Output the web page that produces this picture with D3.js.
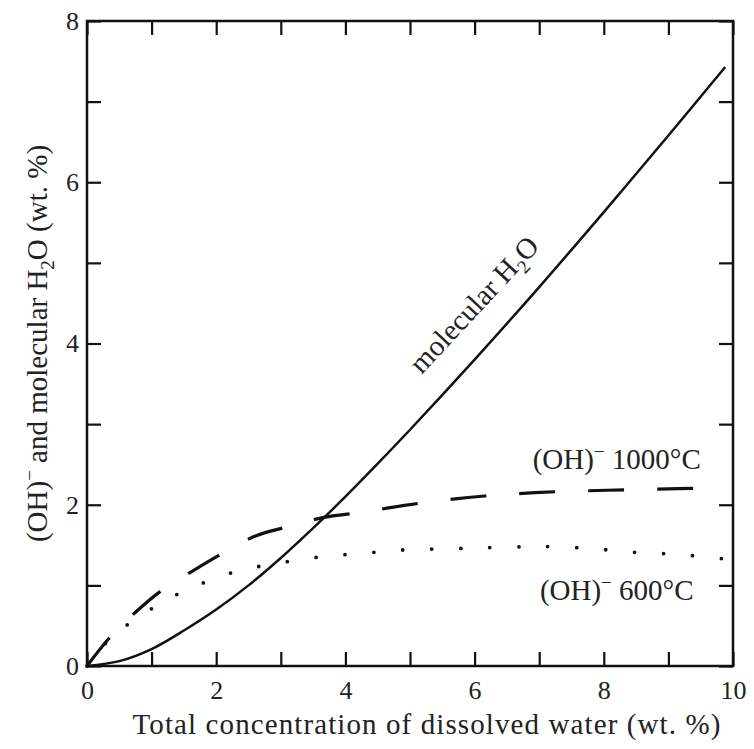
<!DOCTYPE html>
<html>
<head>
<meta charset="utf-8">
<script src="https://cdn.jsdelivr.net/npm/d3@7"></script>
<style>
  body { margin: 0; background: #fff; }
  text { font-family: "Liberation Serif", "Times New Roman", serif; fill: #222; }
</style>
</head>
<body>
<div id="chart"></div>
<script>
// data (wt. %)
const molX = [0, 0.5, 1, 1.5, 2, 2.5, 3, 3.5, 4, 4.5, 5, 6, 7, 8, 9, 9.88];
const molY = [0, 0.06, 0.21, 0.44, 0.70, 1.00, 1.34, 1.71, 2.10, 2.51, 2.93, 3.80, 4.70, 5.63, 6.58, 7.43];

const oh1000X = [0, 0.36, 0.7, 1.16, 1.64, 2.17, 2.63, 3.17, 3.65, 4.29, 4.89, 5.9, 6.93, 8.05, 9.15, 9.85];
const oh1000Y = [0, 0.36, 0.63, 0.94, 1.18, 1.43, 1.62, 1.74, 1.84, 1.91, 1.99, 2.09, 2.15, 2.18, 2.2, 2.21];

const oh600X = [0, 0.43, 0.7, 1.04, 1.4, 1.8, 2.17, 2.57, 3.0, 3.48, 3.98, 4.44, 4.92, 5.88, 6.8, 7.25, 7.74, 8.2, 8.64, 9.07, 9.47, 9.85];
const oh600Y = [0, 0.40, 0.55, 0.73, 0.89, 1.03, 1.14, 1.22, 1.28, 1.34, 1.38, 1.41, 1.44, 1.46, 1.48, 1.48, 1.46, 1.43, 1.40, 1.39, 1.36, 1.33];

const xTicks = [0, 1, 2, 3, 4, 5, 6, 7, 8, 9, 10];
const yTicks = [0, 1, 2, 3, 4, 5, 6, 7, 8];

const W = 754, H = 749;
const margin = { top: 21, right: 21, bottom: 83, left: 87 };
const width = W - margin.left - margin.right;
const height = H - margin.top - margin.bottom;

const svg = d3.select("#chart").append("svg")
  .attr("width", W)
  .attr("height", H);

const g = svg.append("g")
  .attr("transform", `translate(${margin.left},${margin.top})`);

const x = d3.scaleLinear().domain([0, 10]).range([0, width]);
const y = d3.scaleLinear().domain([0, 8]).range([height, 0]);

// axes, ticks pointing inward
const fmt = d => (d % 2 === 0 ? d : "");

g.append("g")
  .attr("transform", `translate(0,${height})`)
  .call(d3.axisBottom(x).tickValues(xTicks).tickFormat(fmt).tickSizeInner(-14).tickSizeOuter(0).tickPadding(15));

g.append("g")
  .call(d3.axisLeft(y).tickValues(yTicks).tickFormat(fmt).tickSizeInner(-14).tickSizeOuter(0).tickPadding(8));

g.append("g")
  .call(d3.axisTop(x).tickValues(xTicks).tickFormat("").tickSizeInner(-14).tickSizeOuter(0));

g.append("g")
  .attr("transform", `translate(${width},0)`)
  .call(d3.axisRight(y).tickValues(yTicks).tickFormat("").tickSizeInner(-14).tickSizeOuter(0));

g.selectAll(".domain").remove();
g.selectAll(".tick line").attr("stroke", "#111").attr("stroke-width", 2.2);
g.selectAll(".tick text").attr("font-size", 26).attr("fill", "#222")
  .attr("font-family", '"Liberation Serif", serif');

// frame
g.append("rect")
  .attr("width", width)
  .attr("height", height)
  .attr("fill", "none")
  .attr("stroke", "#111")
  .attr("stroke-width", 2.5);

// curves
const line = d3.line()
  .x(d => x(d[0]))
  .y(d => y(d[1]))
  .curve(d3.curveCatmullRom.alpha(0.5));

g.append("path")
  .datum(d3.zip(molX, molY))
  .attr("d", line)
  .attr("fill", "none")
  .attr("stroke", "#111")
  .attr("stroke-width", 2.5);

g.append("path")
  .datum(d3.zip(oh1000X, oh1000Y))
  .attr("d", line)
  .attr("fill", "none")
  .attr("stroke", "#111")
  .attr("stroke-width", 3.2)
  .attr("stroke-dasharray", "36,33");

g.append("path")
  .datum(d3.zip(oh600X, oh600Y))
  .attr("d", line)
  .attr("fill", "none")
  .attr("stroke", "#111")
  .attr("stroke-width", 3.8)
  .attr("stroke-linecap", "round")
  .attr("stroke-dasharray", "0,29");

// annotations
function ohLabel(text, cx, cy) {
  const t = g.append("text")
    .attr("x", x(cx))
    .attr("y", y(cy))
    .attr("text-anchor", "middle")
    .attr("font-size", 29);
  t.append("tspan").text("(OH)");
  t.append("tspan").attr("font-size", 19).attr("dy", -11).text("\u2212");
  t.append("tspan").attr("dy", 11).text(" " + text);
}
ohLabel("1000°C", 8.2, 2.44);
ohLabel("600°C", 8.2, 0.82);

const mol = g.append("text")
  .attr("transform", `translate(${x(6.1)},${y(4.4)}) rotate(-47)`)
  .attr("text-anchor", "middle")
  .attr("font-size", 29);
mol.append("tspan").text("molecular H");
mol.append("tspan").attr("font-size", 19).attr("dy", 7).text("2");
mol.append("tspan").attr("dy", -7).text("O");

// axis titles
svg.append("text")
  .attr("x", 427)
  .attr("y", 734)
  .attr("text-anchor", "middle")
  .attr("font-size", 29)
  .attr("letter-spacing", 1.1)
  .text("Total concentration of dissolved water (wt. %)");

const yt = svg.append("text")
  .attr("transform", `translate(47,${margin.top + height / 2}) rotate(-90)`)
  .attr("text-anchor", "middle")
  .attr("font-size", 29);
yt.append("tspan").text("(OH)");
yt.append("tspan").attr("font-size", 19).attr("dy", -11).text("\u2212");
yt.append("tspan").attr("dy", 11).text(" and molecular H");
yt.append("tspan").attr("font-size", 19).attr("dy", 7).text("2");
yt.append("tspan").attr("dy", -7).text("O (wt. %)");
</script>
</body>
</html>
